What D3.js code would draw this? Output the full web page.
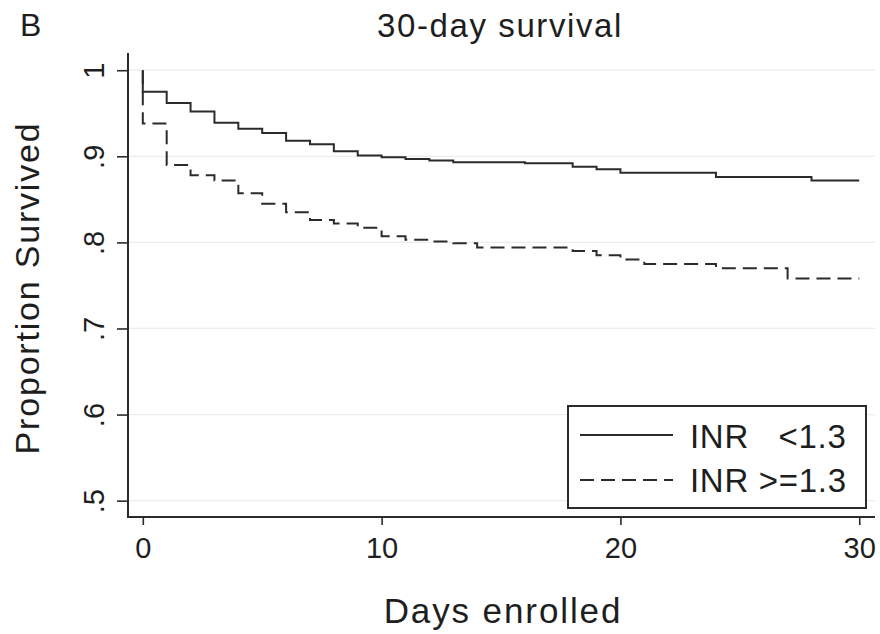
<!DOCTYPE html>
<html>
<head>
<meta charset="utf-8">
<script src="https://cdn.jsdelivr.net/npm/d3@7"></script>
<style>
  body { margin: 0; background: #fff; }
  svg { font-family: "Liberation Sans", Arial, Helvetica, sans-serif; }
</style>
</head>
<body>
<svg id="svg_km" width="880" height="634"></svg>
<script>
// Kaplan-Meier steps: [day, proportion surviving]
const inrLow = [
  [0, 1], [0, 0.975], [1, 0.962], [2, 0.952], [3, 0.939], [4, 0.932],
  [5, 0.927], [6, 0.918], [7, 0.914], [8, 0.906], [9, 0.901], [10, 0.899],
  [11, 0.897], [12, 0.895], [13, 0.893], [16, 0.892], [18, 0.888],
  [19, 0.885], [20, 0.881], [24, 0.876], [28, 0.872], [30, 0.872]
];
const inrHigh = [
  [0, 1], [0, 0.938], [1, 0.890], [2, 0.878], [3, 0.872], [4, 0.857],
  [5, 0.845], [6, 0.835], [7, 0.826], [8, 0.822], [9, 0.817], [10, 0.807],
  [11, 0.803], [12, 0.801], [13, 0.799], [14, 0.794], [18, 0.790],
  [19, 0.785], [20, 0.780], [21, 0.775], [24, 0.770], [27, 0.758], [30, 0.758]
];
const seriesNames = ['INR   <1.3', 'INR >=1.3'];
const xTicks = [0, 10, 20, 30];
const yTicks = [0.5, 0.6, 0.7, 0.8, 0.9, 1];
const yTickLabels = ['.5', '.6', '.7', '.8', '.9', '1'];

const width = 880;
const height = 634;
const box = { left: 128, right: 875, top: 53, bottom: 517 };
const ink = '#2b2b2b';

const svg = d3.select('#svg_km');

const xscale = d3.scaleLinear()
  .domain([-0.62, 30.66])
  .range([box.left, box.right]);

const yscale = d3.scaleLinear()
  .domain([0.481, 1.02])
  .range([box.bottom, box.top]);

// faint gridlines
svg.append('g')
  .selectAll('line')
  .data(yTicks)
  .enter()
  .append('line')
  .attr('x1', box.left)
  .attr('x2', box.right)
  .attr('y1', (d) => yscale(d))
  .attr('y2', (d) => yscale(d))
  .attr('stroke', '#ececec')
  .attr('stroke-width', 1.2);

// axes
const bottomAxis = d3.axisBottom(xscale)
  .tickValues(xTicks)
  .tickSize(8)
  .tickPadding(12)
  .tickFormat(d3.format('d'));

const gx = svg.append('g')
  .attr('transform', `translate(0, ${box.bottom})`)
  .call(bottomAxis);
gx.select('.domain').remove();
gx.selectAll('line').attr('stroke', ink).attr('stroke-width', 1.6);
gx.selectAll('text')
  .attr('font-size', 29)
  .attr('fill', '#1e1e1e')
  .style('font-family', '"Liberation Sans", Arial, sans-serif');

const leftAxis = d3.axisLeft(yscale)
  .tickValues(yTicks)
  .tickSize(11)
  .tickFormat((d, i) => yTickLabels[i]);

const gy = svg.append('g')
  .attr('transform', `translate(${box.left}, 0)`)
  .call(leftAxis);
gy.select('.domain').remove();
gy.selectAll('line').attr('stroke', ink).attr('stroke-width', 1.6);
gy.selectAll('text')
  .attr('x', 0)
  .attr('dy', 0)
  .attr('text-anchor', 'middle')
  .attr('transform', 'translate(-24, 0) rotate(-90)')
  .attr('font-size', 29)
  .attr('fill', '#1e1e1e')
  .style('font-family', '"Liberation Sans", Arial, sans-serif');

// axis lines (L shape)
svg.append('path')
  .attr('d', `M${box.left},${box.top}V${box.bottom}H${box.right}`)
  .attr('fill', 'none')
  .attr('stroke', ink)
  .attr('stroke-width', 2);

// survival curves
const line = d3.line()
  .x((d) => xscale(d[0]))
  .y((d) => yscale(d[1]))
  .curve(d3.curveStepAfter);

const dashes = ['none', '14,7'];

svg.append('g')
  .selectAll('path')
  .data([inrLow, inrHigh])
  .enter()
  .append('path')
  .attr('d', line)
  .attr('fill', 'none')
  .attr('stroke', ink)
  .attr('stroke-width', 2)
  .attr('stroke-dasharray', (d, i) => dashes[i]);

// titles
svg.append('text')
  .text('B')
  .attr('x', 20)
  .attr('y', 36)
  .attr('font-size', 32)
  .attr('fill', '#1e1e1e');

svg.append('text')
  .text('30-day survival')
  .attr('x', 500)
  .attr('y', 37)
  .attr('text-anchor', 'middle')
  .attr('font-size', 33)
  .attr('letter-spacing', 1.6)
  .attr('fill', '#1e1e1e');

svg.append('text')
  .text('Days enrolled')
  .attr('x', 503)
  .attr('y', 623)
  .attr('text-anchor', 'middle')
  .attr('font-size', 35)
  .attr('letter-spacing', 1.9)
  .attr('fill', '#1e1e1e');

svg.append('text')
  .text('Proportion Survived')
  .attr('transform', 'translate(39, 288) rotate(-90)')
  .attr('text-anchor', 'middle')
  .attr('font-size', 34)
  .attr('letter-spacing', 1.8)
  .attr('fill', '#1e1e1e');

// legend
const legend = svg.append('g');

legend.append('rect')
  .attr('x', 568)
  .attr('y', 406)
  .attr('width', 298)
  .attr('height', 102)
  .attr('fill', '#fff')
  .attr('stroke', ink)
  .attr('stroke-width', 2);

legend.selectAll('line')
  .data(seriesNames)
  .enter()
  .append('line')
  .attr('x1', 580)
  .attr('x2', 673)
  .attr('y1', (d, i) => 435 + i * 45)
  .attr('y2', (d, i) => 435 + i * 45)
  .attr('stroke', ink)
  .attr('stroke-width', 2)
  .attr('stroke-dasharray', (d, i) => dashes[i]);

legend.selectAll('text')
  .data(seriesNames)
  .enter()
  .append('text')
  .text((d) => d)
  .attr('x', 690)
  .attr('y', (d, i) => 448 + i * 44)
  .attr('font-size', 33)
  .attr('letter-spacing', 0.7)
  .attr('fill', '#1e1e1e')
  .style('white-space', 'pre');
</script>
</body>
</html>
